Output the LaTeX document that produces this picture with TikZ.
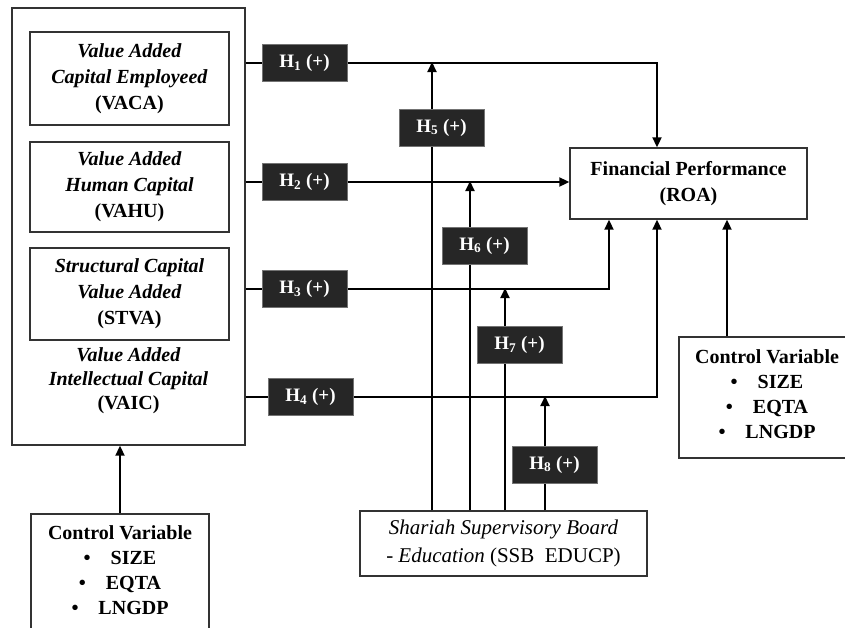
\documentclass[tikz,border=0pt]{standalone}
\usepackage{fontspec}
\setmainfont{Liberation Serif}
\usetikzlibrary{arrows.meta}
\begin{document}
\begin{tikzpicture}[x=1pt,y=-1pt,
  box/.style={draw=black!80, line width=1.4pt, fill=white, inner sep=0pt},
  hbox/.style={draw=black!55, fill=black!85, line width=1pt, minimum width=85pt, minimum height=37pt, inner sep=0pt, text=white, font=\bfseries\fontsize{19}{20}\selectfont},
  txt/.style={align=center, inner sep=0pt, font=\fontsize{20}{26}\selectfont},
  conn/.style={line width=2pt},
  arr/.style={line width=2pt, -{Triangle[length=10pt,width=9pt]}}]
\useasboundingbox (0,0) rectangle (845,627);

% left outer box and inner boxes
\node[box, minimum width=233pt, minimum height=437pt] (outer) at (128.5,226.5) {};
\node[box, minimum width=199pt, minimum height=93pt] (vaca) at (129.5,78.5) {};
\node[txt, font=\bfseries\fontsize{20}{26}\selectfont] (vacat) at (vaca) {\textit{Value Added}\\\textit{Capital Employeed}\\(VACA)};
\node[box, minimum width=199pt, minimum height=90pt] (vahu) at (129.5,187) {};
\node[txt, font=\bfseries\fontsize{20}{26}\selectfont] (vahut) at (vahu) {\textit{Value Added}\\\textit{Human Capital}\\(VAHU)};
\node[box, minimum width=199pt, minimum height=92pt] (stva) at (129.5,294) {};
\node[txt, font=\bfseries\fontsize{20}{26}\selectfont] (stvat) at (stva) {\textit{Structural Capital}\\\textit{Value Added}\\(STVA)};
\node[txt, font=\bfseries\fontsize{20}{24}\selectfont] (vaict) at (128.5,381) {\textit{Value Added}\\\textit{Intellectual Capital}\\(VAIC)};

% financial performance
\node[box, minimum width=237pt, minimum height=71pt] (fp) at (688.5,183.5) {};
\node[txt, font=\bfseries\fontsize{20}{26}\selectfont] (fpt) at (fp) {Financial Performance\\(ROA)};

% SSB
\node[box, minimum width=287pt, minimum height=65pt] (ssb) at (503.5,543.5) {};
\node[txt, font=\fontsize{21}{28}\selectfont] (ssbt) at (ssb) {\textit{Shariah Supervisory Board}\\\textit{- Education} (SSB\ \ EDUCP)};

% control variable boxes
\node[box, minimum width=167pt, minimum height=121pt] (ctrlR) at (762.5,397.5) {};
\node[txt, font=\bfseries\fontsize{20}{25}\selectfont] (ctrlRt) at (767,394) {Control Variable\\\textbullet\quad SIZE\\\textbullet\quad EQTA\\\textbullet\quad LNGDP};
\node[box, minimum width=178pt, minimum height=130pt] (ctrlL) at (120,579) {};
\node[txt, font=\bfseries\fontsize{20}{25}\selectfont] (ctrlLt) at (120,570) {Control Variable\\\textbullet\quad SIZE\\\textbullet\quad EQTA\\\textbullet\quad LNGDP};

% hypothesis boxes
\node[hbox] (h1) at (304.5,63) {H\textsubscript{1} (+)};
\node[hbox] (h2) at (304.5,182) {H\textsubscript{2} (+)};
\node[hbox] (h3) at (304.5,289) {H\textsubscript{3} (+)};
\node[hbox] (h4) at (310.5,397) {H\textsubscript{4} (+)};
\node[hbox] (h5) at (441.5,127.5) {H\textsubscript{5} (+)};
\node[hbox] (h6) at (484.5,245.5) {H\textsubscript{6} (+)};
\node[hbox] (h7) at (519.5,345) {H\textsubscript{7} (+)};
\node[hbox] (h8) at (554.5,464.5) {H\textsubscript{8} (+)};

% x-positions of vertical connectors
\coordinate (v5) at (432,0);
\coordinate (v6) at (470,0);
\coordinate (v7) at (505,0);
\coordinate (v8) at (545,0);
\coordinate (x609) at (609,0);
\coordinate (x657) at (657,0);
\coordinate (x727) at (727,0);

% horizontal connectors
\draw[conn] (outer.east |- h1) -- (h1.west);
\draw[conn] (outer.east |- h2) -- (h2.west);
\draw[conn] (outer.east |- h3) -- (h3.west);
\draw[conn] (outer.east |- h4) -- (h4.west);
\draw[arr] (h1.east) -| (x657 |- fp.north);
\draw[arr] (h2.east) -- (h2.east -| fp.west);
\draw[arr] (h3.east) -| (x609 |- fp.south);
\draw[arr] (h4.east) -| (x657 |- fp.south);
\draw[arr] (x727 |- ctrlR.north) -- (x727 |- fp.south);
\draw[arr] (ctrlL.north) -- (ctrlL.north |- outer.south);

% moderating connectors
\draw[conn] (v5 |- ssb.north) -- (v5 |- h5.south);
\draw[arr] (v5 |- h5.north) -- ([yshift=1pt]v5 |- h1);
\draw[conn] (v6 |- ssb.north) -- (v6 |- h6.south);
\draw[arr] (v6 |- h6.north) -- ([yshift=1pt]v6 |- h2);
\draw[conn] (v7 |- ssb.north) -- (v7 |- h7.south);
\draw[arr] (v7 |- h7.north) -- ([yshift=1pt]v7 |- h3);
\draw[conn] (v8 |- ssb.north) -- (v8 |- h8.south);
\draw[arr] (v8 |- h8.north) -- ([yshift=1pt]v8 |- h4);
\end{tikzpicture}
\end{document}
